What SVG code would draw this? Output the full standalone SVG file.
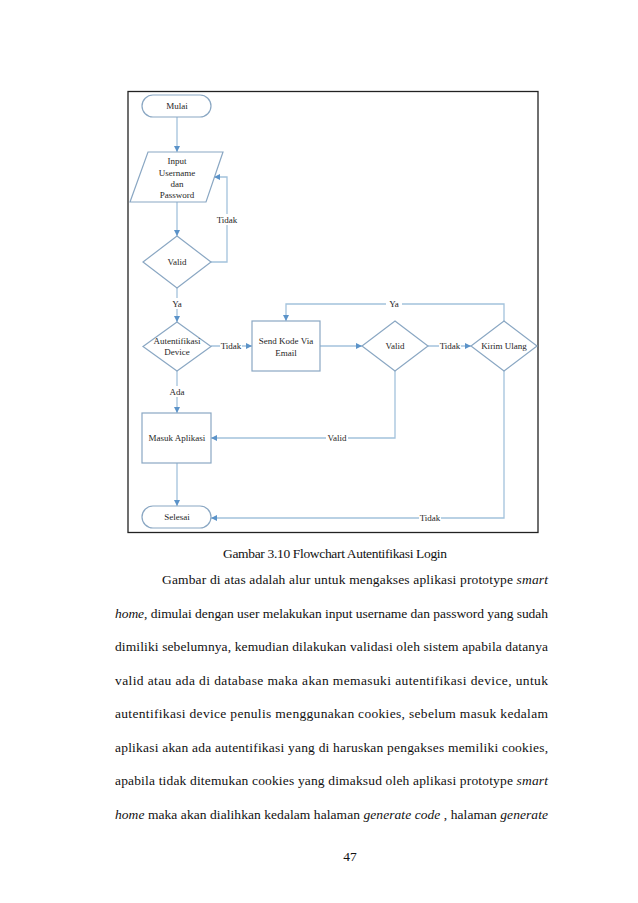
<svg xmlns="http://www.w3.org/2000/svg" width="638" height="903" viewBox="0 0 638 903">
<style>
.node{fill:#fff;stroke:#8aa7c3;stroke-width:1.2}
.conn{fill:none;stroke:#a3c2dc;stroke-width:1.3}
.t{font-family:"Liberation Serif","Times New Roman",serif;font-size:9px;fill:#262626;text-anchor:middle}
.lbl{fill:#fff}
.body{font-family:"Liberation Serif","Times New Roman",serif;font-size:13.5px;fill:#111}
.it{font-style:italic}
</style>
<defs>
<marker id="ah" markerUnits="userSpaceOnUse" markerWidth="7" markerHeight="6" refX="6" refY="3" orient="auto">
<path d="M0,0 L6,3 L0,6 z" fill="#5b93c9"/>
</marker>
</defs>
<rect width="638" height="903" fill="#fff"/>
<rect x="128" y="91.5" width="410" height="441" fill="#fff" stroke="#222" stroke-width="1.3"/>

<g id="connectors">
<path class="conn" d="M177,117 V152" marker-end="url(#ah)"/>
<path class="conn" d="M177,202 V236" marker-end="url(#ah)"/>
<path class="conn" d="M211,262 H227 V177 H214" marker-end="url(#ah)"/>
<path class="conn" d="M177,288 V322" marker-end="url(#ah)"/>
<path class="conn" d="M211,346 H252" marker-end="url(#ah)"/>
<path class="conn" d="M320,346 H362" marker-end="url(#ah)"/>
<path class="conn" d="M428,346 H471" marker-end="url(#ah)"/>
<path class="conn" d="M504,321 V304 H286 V321" marker-end="url(#ah)"/>
<path class="conn" d="M177,371 V413" marker-end="url(#ah)"/>
<path class="conn" d="M395,371 V438 H211" marker-end="url(#ah)"/>
<path class="conn" d="M177,463 V506" marker-end="url(#ah)"/>
<path class="conn" d="M504,371 V518 H211" marker-end="url(#ah)"/>
<rect class="lbl" x="216" y="214" width="22" height="11"/>
<text class="t" x="227" y="223">Tidak</text>
<rect class="lbl" x="169" y="298" width="16" height="11"/>
<text class="t" x="177" y="307">Ya</text>
<rect class="lbl" x="220" y="340" width="22" height="11"/>
<text class="t" x="231" y="349">Tidak</text>
<rect class="lbl" x="168" y="386" width="18" height="11"/>
<text class="t" x="177" y="395">Ada</text>
<rect class="lbl" x="386" y="298" width="16" height="11"/>
<text class="t" x="394" y="307">Ya</text>
<rect class="lbl" x="439" y="340" width="22" height="11"/>
<text class="t" x="450" y="349">Tidak</text>
<rect class="lbl" x="326" y="432" width="22" height="11"/>
<text class="t" x="337" y="441">Valid</text>
<rect class="lbl" x="419" y="512" width="22" height="11"/>
<text class="t" x="430" y="521">Tidak</text>
</g>

<g id="mulai">
<rect class="node" x="142" y="95" width="69" height="22" rx="11"/>
<text class="t" x="177" y="109">Mulai</text>
</g>
<g id="input">
<path class="node" d="M148,152 H223 L206,202 H130 Z"/>
<text class="t" x="177" y="164">Input</text>
<text class="t" x="177" y="176">Username</text>
<text class="t" x="177" y="187">dan</text>
<text class="t" x="177" y="198">Password</text>
</g>
<g id="valid1">
<path class="node" d="M177,236 L211,262 L177,288 L143,262 Z"/>
<text class="t" x="177" y="265">Valid</text>
</g>
<g id="auth">
<path class="node" d="M177,322 L211,346.5 L177,371 L143,346.5 Z"/>
<text class="t" x="177" y="344">Autentifikasi</text>
<text class="t" x="177" y="355">Device</text>
</g>
<g id="send">
<rect class="node" x="252" y="321" width="68" height="50"/>
<text class="t" x="286" y="344">Send Kode Via</text>
<text class="t" x="286" y="356">Email</text>
</g>
<g id="valid2">
<path class="node" d="M395,321 L428,346 L395,371 L362,346 Z"/>
<text class="t" x="395" y="349">Valid</text>
</g>
<g id="kirim">
<path class="node" d="M504,321 L537,346 L504,371 L471,346 Z"/>
<text class="t" x="504" y="349">Kirim Ulang</text>
</g>
<g id="masuk">
<rect class="node" x="142" y="413" width="69" height="50"/>
<text class="t" x="177" y="441">Masuk Aplikasi</text>
</g>
<g id="selesai">
<rect class="node" x="142" y="506" width="69" height="22" rx="11"/>
<text class="t" x="177" y="520">Selesai</text>
</g>

<text class="body" x="223" y="558" textLength="224" lengthAdjust="spacing">Gambar 3.10 Flowchart Autentifikasi Login</text>
<text class="body" x="162" y="584" textLength="386" lengthAdjust="spacing">Gambar di atas adalah alur untuk mengakses aplikasi prototype <tspan class="it">smart</tspan></text>
<text class="body" x="115" y="617.5" textLength="433" lengthAdjust="spacing"><tspan class="it">home</tspan>, dimulai dengan user melakukan input username dan password yang sudah</text>
<text class="body" x="115" y="651" textLength="433" lengthAdjust="spacing">dimiliki sebelumnya, kemudian dilakukan validasi oleh sistem apabila datanya</text>
<text class="body" x="115" y="684.5" textLength="433" lengthAdjust="spacing">valid atau ada di database maka akan memasuki autentifikasi device, untuk</text>
<text class="body" x="115" y="718" textLength="433" lengthAdjust="spacing">autentifikasi device penulis menggunakan cookies, sebelum masuk kedalam</text>
<text class="body" x="115" y="751.5" textLength="433" lengthAdjust="spacing">aplikasi akan ada autentifikasi yang di haruskan pengakses memiliki cookies,</text>
<text class="body" x="115" y="785" textLength="433" lengthAdjust="spacing">apabila tidak ditemukan cookies yang dimaksud oleh aplikasi prototype <tspan class="it">smart</tspan></text>
<text class="body" x="115" y="818.5" textLength="433" lengthAdjust="spacing"><tspan class="it">home</tspan> maka akan dialihkan kedalam halaman <tspan class="it">generate code</tspan> , halaman <tspan class="it">generate</tspan></text>
<text class="body" x="350" y="861" text-anchor="middle">47</text>
</svg>
